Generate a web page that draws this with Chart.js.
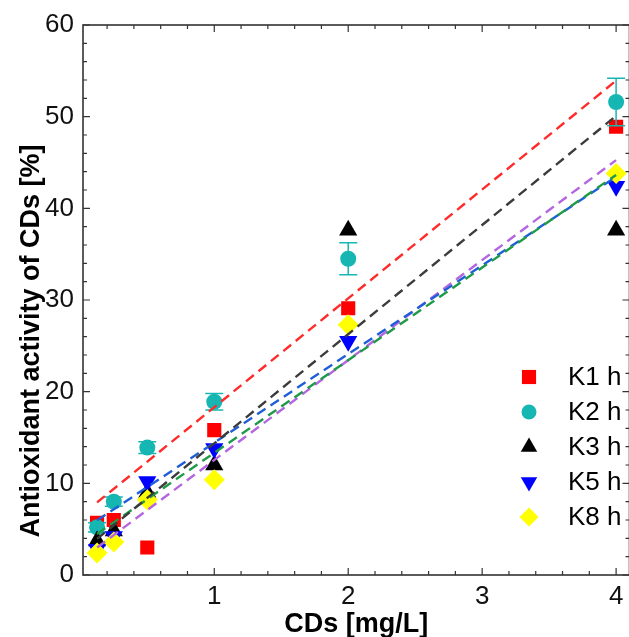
<!DOCTYPE html>
<html>
<head>
<meta charset="utf-8">
<script src="https://cdn.jsdelivr.net/npm/chart.js@4.4.0/dist/chart.umd.min.js"></script>
<style>
  html, body { margin: 0; padding: 0; overflow: hidden; background: #fff; }
  #wrap { width: 640px; height: 637px; }
</style>
</head>
<body>
<div id="wrap"><canvas id="chart" width="640" height="637"></canvas></div>
<script>
// CDs concentration [mg/L]
const concentrations = [0.125, 0.25, 0.5, 1, 2, 4];

// antioxidant activity [%]
const k1 = [5.7, 6.0, 3.0, 15.8, 29.1, 48.9];
const k2 = [5.2, 8.0, 13.9, 18.9, 34.5, 51.6];
const k2Err = [0.5, 0.5, 0.65, 0.9, 1.75, 2.6];
const k3 = [3.7, 4.8, 9.0, 12.0, 37.6, 37.6];
const k5 = [2.8, 4.2, 10.2, 13.8, 25.5, 42.4];
const k8 = [2.4, 3.6, 8.2, 10.4, 27.3, 43.8];

const seriesLabels = ['K1 h', 'K2 h', 'K3 h', 'K5 h', 'K8 h'];
const xTickValues = [1, 2, 3, 4];
const yTickValues = [0, 10, 20, 30, 40, 50, 60];

const FONT = "'Liberation Sans', Arial, sans-serif";
const axisColor = '#333';

function linearFit(xs, ys) {
  const n = xs.length;
  const mx = xs.reduce((a, b) => a + b, 0) / n;
  const my = ys.reduce((a, b) => a + b, 0) / n;
  let sxy = 0, sxx = 0;
  xs.forEach((x, i) => { sxy += (x - mx) * (ys[i] - my); sxx += (x - mx) * (x - mx); });
  const slope = sxy / sxx;
  return x => my + slope * (x - mx);
}

function points(ys) {
  return concentrations.map((x, i) => ({ x: x, y: ys[i] }));
}

function fitLine(ys, color) {
  const f = linearFit(concentrations, ys);
  const x0 = Math.min(...concentrations), x1 = Math.max(...concentrations);
  return {
    label: 'fit',
    data: [{ x: x0, y: f(x0) }, { x: x1, y: f(x1) }],
    showLine: true,
    borderColor: color,
    borderWidth: 2.4,
    borderDash: [10, 6],
    pointRadius: 0,
    order: 0
  };
}

const markerSeries = [
  { label: seriesLabels[0], data: points(k1), pointStyle: 'rect', pointRadius: 10, backgroundColor: '#ff0000', order: 5 },
  { label: seriesLabels[1], data: points(k2), pointStyle: 'circle', pointRadius: 8, backgroundColor: '#16b6b2', order: 4 },
  { label: seriesLabels[2], data: points(k3), pointStyle: 'triangle', pointRadius: 10.5, backgroundColor: '#000000', order: 3 },
  { label: seriesLabels[3], data: points(k5), pointStyle: 'triangle', pointRotation: 180, pointRadius: 10.5, backgroundColor: '#0000ff', order: 2 },
  { label: seriesLabels[4], data: points(k8), pointStyle: 'rectRot', pointRadius: 10.5, backgroundColor: '#ffff00', order: 1 }
];
markerSeries.forEach(s => { s.borderWidth = 0; s.borderColor = s.backgroundColor; s.pointHoverRadius = s.pointRadius; });

const fits = [
  fitLine(k1, '#3c3c3c'),
  fitLine(k2, '#ff2a2a'),
  fitLine(k5, '#1f9a48'),
  fitLine(k3, '#1e5fd8'),
  fitLine(k8, '#b466e0')
];

// error bars for K2
const errorBars = {
  id: 'errorBars',
  afterDatasetDraw(chart, args) {
    if (args.index !== 1) return;
    const { ctx, scales: { x, y } } = chart;
    ctx.save();
    ctx.strokeStyle = '#16b6b2';
    ctx.lineWidth = 1.5;
    concentrations.forEach((c, i) => {
      const px = x.getPixelForValue(c);
      const top = y.getPixelForValue(k2[i] + k2Err[i]);
      const bot = y.getPixelForValue(k2[i] - k2Err[i]);
      ctx.beginPath();
      ctx.moveTo(px, top); ctx.lineTo(px, bot);
      ctx.moveTo(px - 9, top); ctx.lineTo(px + 9, top);
      ctx.moveTo(px - 9, bot); ctx.lineTo(px + 9, bot);
      ctx.stroke();
    });
    ctx.restore();
  }
};

// frame with inward ticks, axis titles and legend
const frame = {
  id: 'frame',
  afterDraw(chart) {
    const { ctx, chartArea: a, scales: { x, y } } = chart;
    ctx.save();
    ctx.strokeStyle = axisColor;
    ctx.lineWidth = 1.6;
    ctx.strokeRect(a.left, a.top, a.right - a.left, a.bottom - a.top);

    ctx.lineWidth = 1.2;
    ctx.beginPath();
    for (let k = 1; k * 0.2 < x.max; k++) {
      const px = x.getPixelForValue(k * 0.2);
      const len = k % 5 === 0 ? 7 : 4;
      ctx.moveTo(px, a.bottom); ctx.lineTo(px, a.bottom - len);
      ctx.moveTo(px, a.top); ctx.lineTo(px, a.top + len);
    }
    for (let v = 0; v <= y.max; v += 2) {
      const py = y.getPixelForValue(v);
      const len = v % 10 === 0 ? 7 : 4;
      ctx.moveTo(a.left, py); ctx.lineTo(a.left + len, py);
      ctx.moveTo(a.right, py); ctx.lineTo(a.right - len, py);
    }
    ctx.stroke();

    // axis titles
    ctx.fillStyle = '#000';
    ctx.font = 'bold 27px ' + FONT;
    ctx.textAlign = 'center';
    ctx.textBaseline = 'alphabetic';
    ctx.fillText('CDs [mg/L]', (a.left + a.right) / 2, 632);
    ctx.save();
    ctx.translate(39, 341);
    ctx.rotate(-Math.PI / 2);
    ctx.fillText('Antioxidant activity of CDs [%]', 0, 0);
    ctx.restore();

    // legend
    ctx.font = '26px ' + FONT;
    ctx.textAlign = 'left';
    ctx.textBaseline = 'middle';
    markerSeries.forEach((s, i) => {
      const ly = 377 + i * 35;
      ctx.fillStyle = s.backgroundColor;
      ctx.strokeStyle = s.backgroundColor;
      Chart.helpers.drawPoint(ctx, {
        pointStyle: s.pointStyle,
        radius: s.pointStyle === 'circle' ? 7.5 : (s.pointStyle === 'rect' ? 10 : 9.5),
        rotation: s.pointRotation || 0,
        borderWidth: 0
      }, 529, ly);
      ctx.fillStyle = '#000';
      ctx.fillText(s.label, 568, ly + 1);
    });
    ctx.restore();
  }
};

new Chart(document.getElementById('chart'), {
  type: 'scatter',
  data: { datasets: [...markerSeries, ...fits] },
  options: {
    responsive: false,
    animation: false,
    layout: { padding: { top: 25, right: 6.5, left: 0, bottom: 0 } },
    plugins: { legend: { display: false }, tooltip: { enabled: false } },
    scales: {
      x: {
        type: 'linear',
        min: 0.02,
        max: 4.1,
        grid: { display: false, drawTicks: false },
        border: { display: false },
        afterBuildTicks: s => { s.ticks = xTickValues.map(v => ({ value: v })); },
        afterFit: s => { s.height = 62; },
        ticks: { padding: 6, color: '#111', font: { family: FONT, size: 26 } }
      },
      y: {
        type: 'linear',
        min: 0,
        max: 60,
        grid: { display: false, drawTicks: false },
        border: { display: false },
        afterBuildTicks: s => { s.ticks = yTickValues.map(v => ({ value: v })); },
        afterFit: s => { s.width = 83; },
        ticks: { padding: 9, color: '#111', font: { family: FONT, size: 26 } }
      }
    }
  },
  plugins: [errorBars, frame]
});
</script>
</body>
</html>
